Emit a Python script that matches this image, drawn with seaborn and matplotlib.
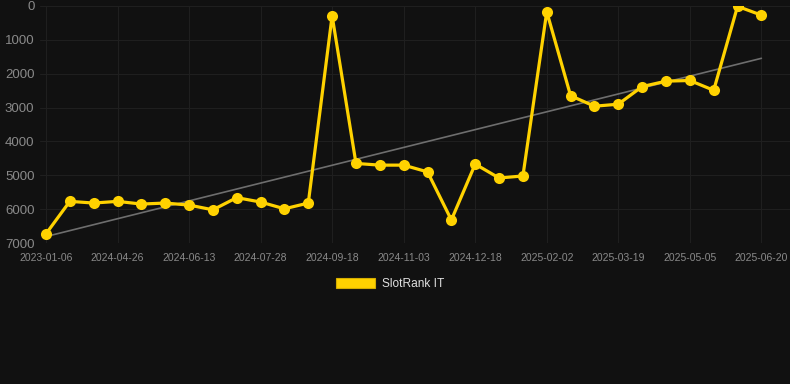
import numpy as np
import pandas as pd
import matplotlib
matplotlib.use("Agg")
import matplotlib.pyplot as plt
import seaborn as sns
from matplotlib.patches import Patch

# ---- data ----
rank_values = [6730, 5770, 5820, 5770, 5850, 5820, 5880, 6020, 5660, 5790, 5990, 5820,
               290, 4650, 4700, 4700, 4900, 6320, 4670, 5080, 5020, 170, 2650, 2960,
               2900, 2380, 2220, 2200, 2490, 10, 270]
tick_labels = ["2023-01-06", "2024-04-26", "2024-06-13", "2024-07-28", "2024-09-18",
               "2024-11-03", "2024-12-18", "2025-02-02", "2025-03-19", "2025-05-05",
               "2025-06-20"]
y_ticks = [0, 1000, 2000, 3000, 4000, 5000, 6000, 7000]
series_name = "SlotRank IT"

sns.set_style("dark")
plt.rcParams['font.family'] = ['Liberation Sans', 'DejaVu Sans']

BG = "#111111"
GOLD = "#FFD200"

idx = np.arange(len(rank_values))
df = pd.DataFrame({"idx": idx, "rank": rank_values})
coef = np.polyfit(idx, rank_values, 1)
df["trend"] = np.polyval(coef, idx)
trend_df = df.iloc[[0, -1]]

fig = plt.figure(figsize=(7.9, 3.84), dpi=100, facecolor=BG)
ax = fig.add_axes([40 / 790, 1 - 243 / 384, 750 / 790, 237 / 384])
ax.set_facecolor(BG)

sns.lineplot(data=trend_df, x="idx", y="trend", ax=ax, color="#6e6e6e", linewidth=1.2)
sns.lineplot(data=df, x="idx", y="rank", ax=ax, color=GOLD, linewidth=2.3,
             marker="o", markersize=8, markeredgewidth=0, markerfacecolor=GOLD)

ax.set_xlim(-0.25, 31.2)
ax.set_ylim(7000, 0)
ax.set_yticks(y_ticks)
ax.set_yticklabels([str(v) for v in y_ticks])
ax.set_xticks(idx[::3])
ax.set_xticklabels(tick_labels)
ax.tick_params(axis="x", colors="#8a8a8a", labelsize=7.5, length=0, pad=7)
ax.tick_params(axis="y", colors="#8a8a8a", labelsize=9.5, length=0, pad=4)
ax.set_xlabel("")
ax.set_ylabel("")
ax.grid(True, color="#1f1f1f", linewidth=0.8)
for s in ax.spines.values():
    s.set_visible(False)

handle = Patch(facecolor=GOLD, edgecolor="#d4ad00", linewidth=0.8)
leg = fig.legend([handle], [series_name], loc="center", bbox_to_anchor=(390 / 790, 1 - 284 / 384),
                 frameon=False, fontsize=8.6, handlelength=3.3, handleheight=1.0,
                 handletextpad=0.55, labelcolor="#e0e0e0")

fig.savefig("out.png", dpi=100, facecolor=BG)
